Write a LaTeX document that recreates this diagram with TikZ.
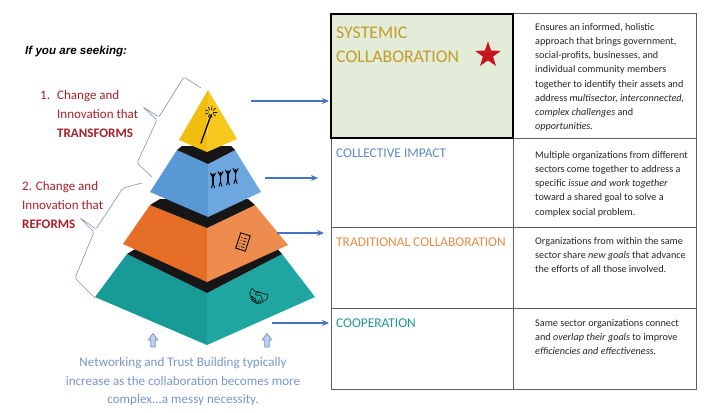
\documentclass[tikz,border=0pt]{standalone}
\usepackage{fontspec}
\setmainfont{Carlito}
\newfontfamily\arialf{Liberation Sans}
\newfontfamily\emo{Noto Emoji}
\usetikzlibrary{arrows.meta,shapes.geometric}
\definecolor{dred}{RGB}{168,32,42}
\definecolor{gold}{RGB}{196,156,40}
\definecolor{greenfill}{RGB}{226,236,216}
\definecolor{cblue}{RGB}{91,140,196}
\definecolor{corange}{RGB}{230,140,70}
\definecolor{cteal}{RGB}{30,150,145}
\definecolor{tline}{RGB}{95,95,95}
\definecolor{arblue}{RGB}{68,114,196}
\definecolor{btext}{RGB}{120,150,205}
\definecolor{brk}{RGB}{130,145,180}
\definecolor{yelL}{RGB}{241,189,14}
\definecolor{yelR}{RGB}{247,200,30}
\definecolor{bluL}{RGB}{88,152,212}
\definecolor{bluR}{RGB}{108,167,224}
\definecolor{orL}{RGB}{230,110,38}
\definecolor{orR}{RGB}{238,140,80}
\definecolor{teL}{RGB}{24,154,150}
\definecolor{teR}{RGB}{32,166,160}
\definecolor{topblk}{RGB}{22,22,22}
\definecolor{upfill}{RGB}{190,208,236}
\tikzset{
  gridline/.style={draw=tline, line width=1pt},
  desc/.style={anchor=north west, inner sep=0pt, align=left, font=\fontsize{10.2}{14.2}\selectfont, text=black!85},
  head/.style={anchor=base west, inner sep=0pt, font=\fontsize{13.4}{15}\selectfont},
  lefttxt/.style={anchor=base west, inner sep=0pt, align=left, text=dred, font=\fontsize{13}{19}\selectfont},
  arr/.style={draw=arblue, line width=1.2pt, -{Stealth[length=7pt,width=6pt]}},
  brace/.style={draw=brk, line width=0.6pt, rounded corners=2pt},
  upar/.style={draw=arblue!80, fill=upfill, line width=0.7pt},
  icon/.style={draw=black, line width=1pt, line cap=round}
}
\begin{document}
\begin{tikzpicture}[x=1pt,y=-1pt]
\useasboundingbox (0,0) rectangle (708,412);
% ---------- table ----------
\fill[greenfill] (331,14) rectangle (513,138);
\draw[gridline] (331,14) rectangle (696,389);
\draw[gridline] (513,14) -- (513,389);
\draw[gridline] (331,227) -- (696,227);
\draw[gridline] (331,308) -- (696,308);
\draw[gridline] (513,138) -- (696,138);
\draw[black, line width=2.2pt] (331,14) rectangle (513,138);
\node[head, text=gold, align=left, font=\fontsize{17.8}{24}\selectfont] (h1) at (336,62.5) {SYSTEMIC\\COLLABORATION};
\node[star, star points=5, star point ratio=2.5, fill={rgb,255:red,200;green,20;blue,30}, minimum size=27pt, inner sep=0pt] (star) at (488,55) {};
\node[head, text=cblue] (h2) at (336,157.5) {COLLECTIVE IMPACT};
\node[head, text=corange] (h3) at (336,246.5) {TRADITIONAL COLLABORATION};
\node[head, text=cteal] (h4) at (336,327.5) {COOPERATION};
\node[desc] (d1) at (535,23) {Ensures an informed, holistic\\approach that brings government,\\social-profits, businesses, and\\individual community members\\together to identify their assets and\\address \textit{multisector, interconnected,}\\\textit{complex challenges} and\\\textit{opportunities.}};
\node[desc] (d2) at (535,151) {Multiple organizations from different\\sectors come together to address a\\specific \textit{issue and work together}\\toward a shared goal to solve a\\complex social problem.};
\node[desc] (d3) at (535,237) {Organizations from within the same\\sector share \textit{new goals} that advance\\the efforts of all those involved.};
\node[desc] (d4) at (535,319) {Same sector organizations connect\\and \textit{overlap their goals} to improve\\\textit{efficiencies and effectiveness.}};
% ---------- left texts ----------
\node[anchor=base west, inner sep=0pt, font=\arialf\bfseries\itshape\fontsize{11.6}{14}\selectfont] (seek) at (25,55) {If you are seeking:};
\node[lefttxt] (n1) at (40,99.5) {1.};
\node[lefttxt] (t1) at (57,137.5) {Change and\\Innovation that\\\textbf{TRANSFORMS}};
\node[lefttxt] (t2) at (22,228.5) {2. Change and\\Innovation that\\\textbf{REFORMS}};
\node[anchor=base, inner sep=0pt, align=center, text=btext, font=\fontsize{13.1}{18.5}\selectfont] (bottom) at (183,403.5) {Networking and Trust Building typically\\increase as the collaboration becomes more\\complex...a messy necessity.};
% ---------- pyramid ----------
% teal
\fill[teL] (95,297) -- (127,254) -- (207,293) -- (207,345) -- cycle;
\fill[teR] (207,293) -- (282,254) -- (315,297) -- (207,345) -- cycle;
\fill[topblk] (127,254) -- (140,246) -- (275,246) -- (282,254) -- (207,293) -- cycle;
% orange
\fill[orL] (123,244) -- (150,205) -- (207,228) -- (207,282) -- cycle;
\fill[orR] (207,228) -- (255,205) -- (288,245) -- (207,282) -- cycle;
\fill[topblk] (150,205) -- (160,199) -- (248,199) -- (255,205) -- (207,228) -- cycle;
% blue
\fill[bluL] (150,192) -- (177,150) -- (208,164) -- (208,217) -- cycle;
\fill[bluR] (208,164) -- (235,150) -- (261,192) -- (208,217) -- cycle;
\fill[topblk] (177,150) -- (182,146) -- (231,146) -- (235,150) -- (208,164) -- cycle;
% yellow
\fill[yelL] (179,140) -- (208,90) -- (207,152) -- cycle;
\fill[yelR] (208,90) -- (237,139) -- (207,152) -- cycle;
% ---------- icons ----------
% wand
\draw[icon, line width=1.3pt] (201,143) -- (211,115);
\foreach \a in {0,40,...,320} {\draw[icon, line width=0.6pt] (211,112) ++(\a:2.5) -- ++(\a:3.5);}
% people
\foreach \i/\dx in {0/0,1/7.5,2/15,3/22.5} {
  \begin{scope}[shift={(213+\dx,180-0.2*\dx)}]
    \fill (0,-5) circle (1.6);
    \draw[icon, line width=1.4pt] (0,-3) -- (0,3);
    \draw[icon, line width=0.9pt] (0,-2) -- (-2.5,-7) (0,-2) -- (2.5,-7);
    \draw[icon, line width=0.9pt] (0,3) -- (-1.5,8) (0,3) -- (1.5,8);
  \end{scope}
}
% clipboard
\begin{scope}[shift={(243,242)}, rotate=-18]
  \draw[black, line width=0.9pt] (-5,-8) rectangle (5,8);
  \foreach \yy in {-4,-1,2,5} {\draw[black, line width=0.6pt] (-3,\yy) -- (-2,\yy) (-0.5,\yy) -- (3,\yy);}
\end{scope}
% handshake
\node[inner sep=0pt, font=\emo\fontsize{17}{17}\selectfont, rotate=-20] (hand) at (258,298) {🤝};
% ---------- braces ----------
\draw[brace] (201,88) -- (184,77) -- (159,117) -- (143,107) -- (157,120) -- (137,163) -- (152,177);
\draw[brace] (142,183) -- (123,188) -- (96,229) -- (80,218) -- (94,232) -- (75,278) -- (95,298);
% ---------- arrows ----------
\coordinate (a1s) at (251,101); \coordinate (a1e) at (329,101);
\coordinate (a2s) at (265,178); \coordinate (a2e) at (318,178);
\coordinate (a3s) at (277,233); \coordinate (a3e) at (324,233);
\coordinate (a4s) at (272,323); \coordinate (a4e) at (329,323);
\draw[arr] (a1s) -- (a1e);
\draw[arr] (a2s) -- (a2e);
\draw[arr] (a3s) -- (a3e);
\draw[arr] (a4s) -- (a4e);
% up arrows
\foreach \ux in {153,267} {
  \draw[upar] (\ux-2.2,347) -- (\ux-2.2,340) -- (\ux-4.8,340) -- (\ux,333.5) -- (\ux+4.8,340) -- (\ux+2.2,340) -- (\ux+2.2,347) -- cycle;
}
\end{tikzpicture}
\end{document}
